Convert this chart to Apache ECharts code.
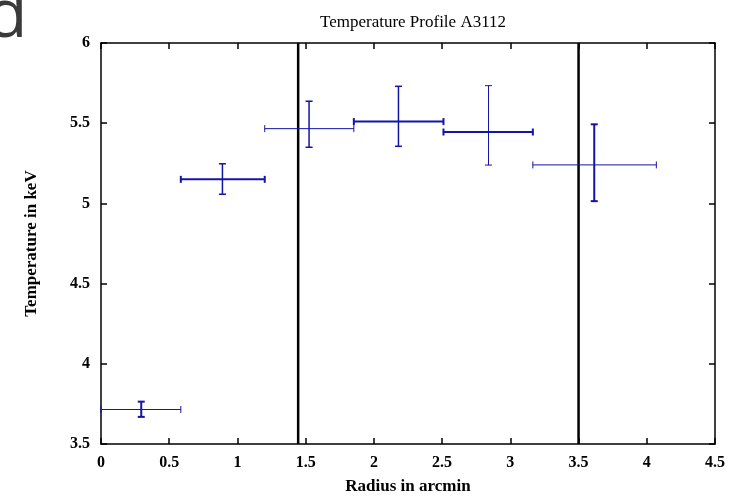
<!DOCTYPE html>
<html>
<head>
<meta charset="utf-8">
<script src="https://cdn.jsdelivr.net/npm/echarts@6/dist/echarts.min.js"></script>
<style>html,body{margin:0;padding:0;background:#fff;}#c{width:730px;height:500px;}</style>
</head>
<body>
<div id="c"></div>
<script>
// ---- data ----
const radius     = [0.295, 0.89, 1.525, 2.18, 2.84, 3.615];
const radiusLow  = [0.0, 0.585, 1.2, 1.853, 2.51, 3.165];
const radiusHigh = [0.585, 1.2, 1.853, 2.51, 3.165, 4.07];
const temp       = [3.715, 5.15, 5.466, 5.51, 5.445, 5.24];
const tempLow    = [3.669, 5.057, 5.35, 5.356, 5.239, 5.014];
const tempHigh   = [3.764, 5.247, 5.637, 5.73, 5.734, 5.493];
const boundaries = [1.445, 3.5];
const xTicks = [0, 0.5, 1, 1.5, 2, 2.5, 3, 3.5, 4, 4.5];
const yTicks = [3.5, 4, 4.5, 5, 5.5, 6];

// style (line widths of horizontal / vertical bars, per point)
const hWidth = [1, 2, 1, 2, 2, 1];
const vWidth = [2, 1.5, 1.5, 1.5, 1, 2];

const blue = '#1414a6';
const serif = '"Liberation Serif","DejaVu Serif",serif';

const errData = radius.map((r, i) => [r, temp[i], radiusLow[i], radiusHigh[i], tempLow[i], tempHigh[i], i]);
const lineData = boundaries.map(b => [b]);

const chart = echarts.init(document.getElementById('c'), null, {renderer: 'canvas'});

const labelStyle = {color: '#000', fontFamily: serif, fontSize: 16, fontWeight: 'bold'};
function axisCommon() {
  return {
    axisLine: {show: true, onZero: false, lineStyle: {color: '#000', width: 1.5}},
    axisTick: {show: true, inside: true, length: 6, lineStyle: {color: '#000', width: 1.5}},
    splitLine: {show: false}
  };
}
const fmt = list => v => list.includes(+v.toFixed(2)) ? String(+v.toFixed(2)) : '';

const option = {
  backgroundColor: '#fff',
  animation: false,
  title: {
    text: 'Temperature Profile A3112',
    left: 408, top: 9, textAlign: 'center',
    textStyle: {fontFamily: serif, fontSize: 17, fontWeight: 'normal', color: '#000'}
  },
  graphic: [{
    type: 'text', left: -14, top: -16, silent: true,
    style: {text: 'd', fontFamily: '"Open Sans",sans-serif', fontSize: 68, fill: '#3a3a3a'}
  }],
  grid: {left: 101, right: 15, top: 43, bottom: 53, containLabel: false},
  xAxis: [
    Object.assign({
      type: 'value', min: 0, max: 4.5, interval: 0.5, position: 'bottom',
      name: 'Radius in arcmin', nameLocation: 'middle', nameGap: 34,
      nameTextStyle: {fontFamily: serif, fontSize: 17, fontWeight: 'bold', color: '#000'},
      axisLabel: Object.assign({show: true, margin: 11, formatter: fmt(xTicks)}, labelStyle)
    }, axisCommon()),
    Object.assign({type: 'value', min: 0, max: 4.5, interval: 0.5, position: 'top', axisLabel: {show: false}}, axisCommon())
  ],
  yAxis: [
    Object.assign({
      type: 'value', min: 3.5, max: 6, interval: 0.5, position: 'left',
      name: 'Temperature in keV', nameLocation: 'middle', nameGap: 61,
      nameTextStyle: {fontFamily: serif, fontSize: 17, fontWeight: 'bold', color: '#000'},
      axisLabel: Object.assign({show: true, margin: 11, formatter: fmt(yTicks)}, labelStyle)
    }, axisCommon()),
    Object.assign({type: 'value', min: 3.5, max: 6, interval: 0.5, position: 'right', axisLabel: {show: false}}, axisCommon())
  ],
  series: [
    {
      type: 'custom',
      xAxisIndex: 0, yAxisIndex: 0,
      data: lineData,
      renderItem: function (params, api) {
        const x = api.value(0);
        const p1 = api.coord([x, 3.5]);
        const p2 = api.coord([x, 6]);
        return {type: 'line', shape: {x1: p1[0], y1: p1[1], x2: p2[0], y2: p2[1]},
          style: {stroke: '#000', lineWidth: 2.5}};
      },
      silent: true, z: 3
    },
    {
      type: 'custom',
      xAxisIndex: 0, yAxisIndex: 0,
      data: errData,
      encode: {x: [0, 2, 3], y: [1, 4, 5]},
      renderItem: function (params, api) {
        const x = api.value(0), y = api.value(1);
        const xl = api.value(2), xh = api.value(3), yl = api.value(4), yh = api.value(5);
        const i = api.value(6);
        const L = api.coord([xl, y]);
        const R = api.coord([xh, y]);
        const B = api.coord([x, yl]);
        const T = api.coord([x, yh]);
        const cap = 3.5;
        const hs = {stroke: blue, lineWidth: hWidth[i]};
        const vs = {stroke: blue, lineWidth: vWidth[i]};
        return {
          type: 'group',
          children: [
            {type: 'line', shape: {x1: L[0], y1: L[1], x2: R[0], y2: R[1]}, style: hs},
            {type: 'line', shape: {x1: L[0], y1: L[1] - cap, x2: L[0], y2: L[1] + cap}, style: hs},
            {type: 'line', shape: {x1: R[0], y1: R[1] - cap, x2: R[0], y2: R[1] + cap}, style: hs},
            {type: 'line', shape: {x1: B[0], y1: B[1], x2: T[0], y2: T[1]}, style: vs},
            {type: 'line', shape: {x1: T[0] - cap, y1: T[1], x2: T[0] + cap, y2: T[1]}, style: vs},
            {type: 'line', shape: {x1: B[0] - cap, y1: B[1], x2: B[0] + cap, y2: B[1]}, style: vs}
          ]
        };
      },
      z: 4
    }
  ]
};
chart.setOption(option);
</script>
</body>
</html>
